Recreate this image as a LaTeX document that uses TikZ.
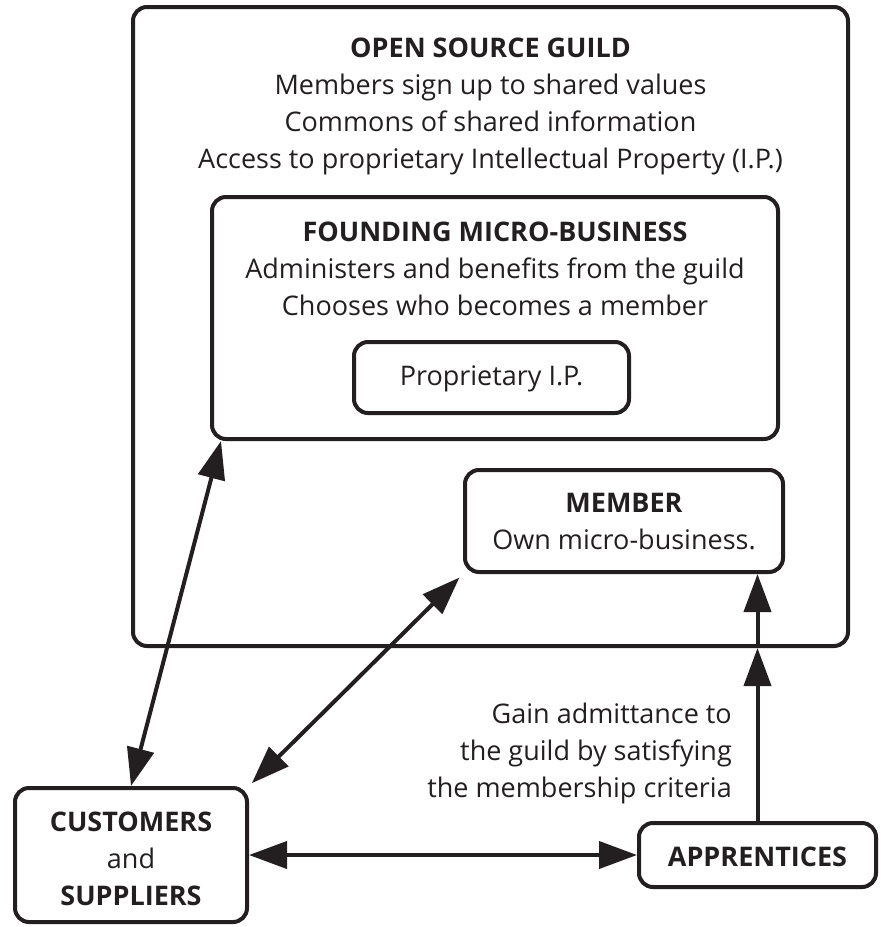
\documentclass[tikz,border=0pt]{standalone}
\usepackage{fontspec}
\setmainfont{Open Sans}
\newcommand*{\guildfont}{\fontsize{27pt}{36.7pt}\selectfont}
\definecolor{ink}{cmyk}{0.00,0.00,0.00,1.00}
\usetikzlibrary{arrows.meta}
\tikzstyle{box}=[draw=ink, line width=4pt, rounded corners=14pt, inner sep=0pt]
\tikzstyle{words}=[align=center, inner sep=0pt, text=ink]
\tikzstyle{link}=[draw=ink, line width=4pt, {Triangle[length=38pt,width=27pt]}-{Triangle[length=38pt,width=27pt]}]
\tikzstyle{uplink}=[draw=ink, line width=4pt, -{Triangle[length=38pt,width=27pt]}]

\begin{document}
\begin{tikzpicture}[x=1pt, y=-1pt, font=\guildfont]
    \useasboundingbox (0,0) rectangle (885,927);
    \node [box, minimum width=715pt, minimum height=639pt] (guild) at (490.5,326.5) {};
    \node [words, anchor=base] (guildtext) at (490.5,168) {\textbf{OPEN SOURCE GUILD}\\Members sign up to shared values\\Commons of shared information\\Access to proprietary Intellectual Property (I.P.)};
    \node [box, minimum width=566pt, minimum height=242pt] (founding) at (495,318) {};
    \node [words, anchor=base] (foundingtext) at (495,315) {\textbf{FOUNDING MICRO-BUSINESS}\\Administers and benefits from the guild\\Chooses who becomes a member};
    \node [box, minimum width=275pt, minimum height=71pt] (ip) at (491.5,377.5) {};
    \node [words, anchor=base] (iptext) at (491.5,385) {Proprietary I.P.};
    \node [box, minimum width=318pt, minimum height=102pt] (member) at (624,521) {};
    \node [words, anchor=base] (membertext) at (624,549) {\textbf{MEMBER}\\Own micro-business.};
    \node [box, minimum width=232pt, minimum height=134pt] (customers) at (131,855) {};
    \node [words, anchor=base] (customerstext) at (131,905) {\textbf{CUSTOMERS}\\and\\\textbf{SUPPLIERS}};
    \node [box, minimum width=237pt, minimum height=64pt] (apprentices) at (757.5,855) {};
    \node [words, anchor=base] (apprenticestext) at (757.5,866) {\textbf{APPRENTICES}};
    \node [words, align=right, anchor=base east] (gain) at (732,797) {Gain admittance to\\the guild by satisfying\\the membership criteria};
    \draw [link] (customers.north) -- ([xshift=11pt]founding.south west);
    \draw [link, shorten <=4pt, shorten >=5pt] (customers.north east) -- (member.south west);
    \draw [link] (customers.east) -- (apprentices.west);
    \draw [uplink] (apprentices.north) -- (apprentices.north |- guild.south);
    \draw [uplink] (apprentices.north |- guild.south) -- (apprentices.north |- member.south);
\end{tikzpicture}
\end{document}
